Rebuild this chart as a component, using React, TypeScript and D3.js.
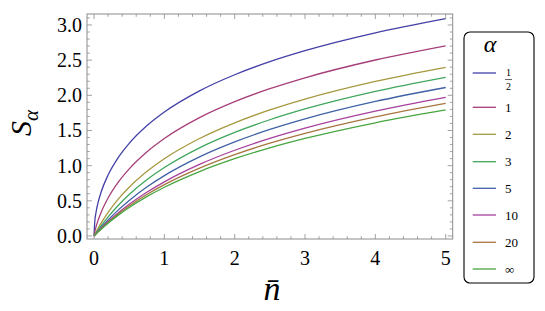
import * as d3 from 'd3';

// mean photon number samples
const nBar = [0, 0.01, 0.03, 0.06, 0.1, 0.2, 0.35, 0.5, 0.75, 1, 1.5, 2, 2.5, 3, 4, 5];

// S_alpha, one list per alpha
const sHalf = [0, 0.1997, 0.3447, 0.4851, 0.6224, 0.867, 1.1232, 1.317, 1.5668, 1.7627, 2.0634, 2.2924, 2.4779, 2.6339, 2.8873, 3.089];
const sOne = [0, 0.0561, 0.1356, 0.2306, 0.3351, 0.5407, 0.7726, 0.9548, 1.1951, 1.3863, 1.6825, 1.9095, 2.0939, 2.2493, 2.502, 2.7034];
const sTwo = [0, 0.0198, 0.0583, 0.1133, 0.1823, 0.3365, 0.5306, 0.6931, 0.9163, 1.0986, 1.3863, 1.6094, 1.7918, 1.9459, 2.1972, 2.3979];
const sThree = [0, 0.0149, 0.0443, 0.0873, 0.1426, 0.2712, 0.4414, 0.5893, 0.7984, 0.973, 1.2528, 1.4722, 1.6525, 1.8055, 2.0554, 2.2554];
const sFive = [0, 0.0124, 0.0369, 0.0728, 0.1191, 0.2279, 0.3748, 0.5058, 0.6959, 0.8585, 1.1251, 1.338, 1.5145, 1.6651, 1.9125, 2.1112];
const sTen = [0, 0.0111, 0.0328, 0.0647, 0.1059, 0.2026, 0.3334, 0.4505, 0.6218, 0.7701, 1.0174, 1.2187, 1.3881, 1.5339, 1.7756, 1.9713];
const sTwenty = [0, 0.0105, 0.0311, 0.0613, 0.1003, 0.1919, 0.3159, 0.4268, 0.5891, 0.7296, 0.9645, 1.1564, 1.3186, 1.4591, 1.6935, 1.8847];
const sInf = [0, 0.00995, 0.0296, 0.0583, 0.0953, 0.1823, 0.3001, 0.4055, 0.5596, 0.6931, 0.9163, 1.0986, 1.2528, 1.3863, 1.6094, 1.7918];

const alphaLabels = ['1/2', '1', '2', '3', '5', '10', '20', '∞'];
const seriesColors = ['#4240a6', '#a63f79', '#a69840', '#40a65d', '#4061a6', '#a6409c', '#a67640', '#47a640'];
const allSeries = [sHalf, sOne, sTwo, sThree, sFive, sTen, sTwenty, sInf];

const yMajor = [0, 0.5, 1, 1.5, 2, 2.5, 3];
const xMajor = [0, 1, 2, 3, 4, 5];

const W = 545;
const H = 311;
const frame = { left: 87, right: 452.7, top: 14, bottom: 239 };

export default function App() {
  const x = d3.scaleLinear().domain([-0.1, 5.1]).range([frame.left, frame.right]);
  const y = d3.scaleLinear().domain([-0.043, 3.156]).range([frame.bottom, frame.top]);

  const line = d3
    .line<number>()
    .x((_, i) => x(nBar[i]))
    .y((d) => y(d))
    .curve(d3.curveMonotoneX);

  const yMinor = d3.range(0, 32).map((i) => i / 10).filter((v) => Math.round(v * 10) % 5 !== 0);
  const xMinor = d3.range(0, 26).map((i) => i / 5).filter((v) => Math.round(v * 5) % 5 !== 0);

  const frameColor = '#8c8c8c';
  const legendRows = [73, 107.3, 134.3, 161.7, 188.3, 215, 242.3, 269];

  return (
    <svg
      width={W}
      height={H}
      fontFamily="Liberation Serif"
      style={{ position: 'fixed', left: 0, top: 0, background: '#fff' }}
    >
      {/* curves */}
      <g fill="none" strokeWidth={1.3}>
        {allSeries.map((s, i) => (
          <path key={i} d={line(s) ?? ''} stroke={seriesColors[i]} />
        ))}
      </g>

      {/* frame */}
      <rect
        x={frame.left}
        y={frame.top}
        width={frame.right - frame.left}
        height={frame.bottom - frame.top}
        fill="none"
        stroke={frameColor}
        strokeWidth={1}
      />
      <g stroke={frameColor} strokeWidth={0.8}>
        {yMajor.map((v) => (
          <g key={'ym' + v}>
            <line x1={frame.left} x2={frame.left + 5} y1={y(v)} y2={y(v)} />
            <line x1={frame.right} x2={frame.right - 5} y1={y(v)} y2={y(v)} />
          </g>
        ))}
        {yMinor.map((v) => (
          <g key={'yn' + v}>
            <line x1={frame.left} x2={frame.left + 2.8} y1={y(v)} y2={y(v)} />
            <line x1={frame.right} x2={frame.right - 2.8} y1={y(v)} y2={y(v)} />
          </g>
        ))}
        {xMajor.map((v) => (
          <g key={'xm' + v}>
            <line x1={x(v)} x2={x(v)} y1={frame.bottom} y2={frame.bottom - 5} />
            <line x1={x(v)} x2={x(v)} y1={frame.top} y2={frame.top + 5} />
          </g>
        ))}
        {xMinor.map((v) => (
          <g key={'xn' + v}>
            <line x1={x(v)} x2={x(v)} y1={frame.bottom} y2={frame.bottom - 2.8} />
            <line x1={x(v)} x2={x(v)} y1={frame.top} y2={frame.top + 2.8} />
          </g>
        ))}
      </g>

      {/* tick labels */}
      {yMajor.map((v) => (
        <text key={'yl' + v} x={82} y={y(v) + 7} fontSize={20} fontFamily="Liberation Serif" textAnchor="end">
          {v.toFixed(1)}
        </text>
      ))}
      {xMajor.map((v) => (
        <text key={'xl' + v} x={x(v)} y={265} fontSize={20} fontFamily="Liberation Serif" textAnchor="middle">
          {v}
        </text>
      ))}

      {/* axis labels */}
      <text
        transform="translate(31,123) rotate(-90)"
        fontFamily="Liberation Serif"
        fontStyle="italic"
        fontSize={30}
        textAnchor="middle"
      >
        S<tspan fontSize={21} dy={7}>α</tspan>
      </text>
      <text x={272} y={300} fontFamily="Liberation Serif" fontStyle="italic" fontSize={34} textAnchor="middle">
        n̄
      </text>

      {/* legend */}
      <rect x={464} y={32} width={70} height={251} rx={6} fill="#fff" stroke="#000" strokeWidth={1.1} />
      <text x={490} y={52} fontFamily="Liberation Serif" fontStyle="italic" fontSize={24} textAnchor="middle">
        α
      </text>
      {alphaLabels.map((lab, i) => (
        <g key={lab}>
          <line x1={472.7} x2={496} y1={legendRows[i]} y2={legendRows[i]} stroke={seriesColors[i]} strokeWidth={1.3} />
          {lab === '1/2' ? (
            <g>
              <text x={508.5} y={legendRows[i] + 3} fontFamily="Liberation Serif" fontSize={10} textAnchor="middle">1</text>
              <line x1={505} x2={512} y1={legendRows[i] + 6.5} y2={legendRows[i] + 6.5} stroke="#000" strokeWidth={0.6} />
              <text x={508.5} y={legendRows[i] + 17} fontFamily="Liberation Serif" fontSize={10} textAnchor="middle">2</text>
            </g>
          ) : (
            <text x={505} y={legendRows[i] + 4.5} fontFamily="Liberation Serif" fontSize={13}>
              {lab}
            </text>
          )}
        </g>
      ))}
    </svg>
  );
}
